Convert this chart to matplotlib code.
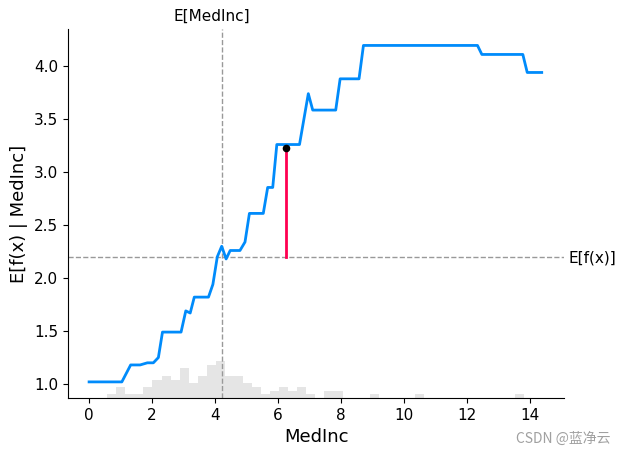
import matplotlib.pyplot as plt
import numpy as np

# partial dependence curve vertices (MedInc -> E[f(x) | MedInc])
pd_x = [0.0, 1.04, 1.32, 1.62, 1.85, 2.04, 2.2, 2.33, 2.92, 3.07, 3.21, 3.34, 3.79, 3.93,
        4.07, 4.21, 4.35, 4.48, 4.79, 4.95, 5.09, 5.53, 5.67, 5.83, 5.96, 6.68, 6.96, 7.1,
        7.83, 7.97, 8.57, 8.71, 12.33, 12.47, 13.77, 13.91, 14.37]
pd_y = [1.02, 1.02, 1.18, 1.18, 1.20, 1.20, 1.25, 1.49, 1.49, 1.69, 1.67, 1.82, 1.82, 1.94,
        2.20, 2.30, 2.18, 2.26, 2.26, 2.34, 2.61, 2.61, 2.855, 2.855, 3.26, 3.26, 3.74, 3.585,
        3.585, 3.88, 3.88, 4.195, 4.195, 4.11, 4.11, 3.94, 3.94]

# histogram of the 100 sampled MedInc values (50 bins over the curve range)
hist_counts = [0, 0, 1, 3, 1, 1, 3, 5, 6, 5, 8, 4, 6, 9, 10, 6, 6, 4, 3, 1,
               2, 3, 2, 3, 1, 0, 2, 2, 0, 0, 0, 1, 0, 0, 0, 0, 1, 0, 0, 0,
               0, 0, 0, 0, 0, 0, 0, 1, 0, 0]
n_samples = 100

mean_x = 4.23          # E[MedInc]
mean_fx = 2.2          # E[f(x)]
sample_x = 6.25        # highlighted sample
sample_fx = 3.23

blue = "#008BFB"
red = "#FF0051"

fig = plt.figure(figsize=(6.26, 4.57), dpi=100)
ax = fig.add_axes([0.1086, 0.1291, 0.7925, 0.8074])

# histogram on a twin axis
ax2 = ax.twinx()
edges = np.linspace(pd_x[0], pd_x[-1], len(hist_counts) + 1)
ax2.bar(edges[:-1], hist_counts, width=np.diff(edges), align="edge",
        color="black", alpha=0.1, linewidth=0)
ax2.set_ylim(0, n_samples)
ax2.set_yticks([])
for s in ax2.spines.values():
    s.set_visible(False)

ax.plot(pd_x, pd_y, color=blue, linewidth=2, zorder=3)
ax.axvline(mean_x, color="#999999", linestyle="--", linewidth=1, zorder=1)
ax.axhline(mean_fx, color="#999999", linestyle="--", linewidth=1, zorder=1)
ax.plot([sample_x, sample_x], [mean_fx, sample_fx], color=red, linewidth=2, zorder=4)
ax.scatter([sample_x], [sample_fx], color="black", s=20, zorder=5)

ax.set_xlim(-0.67, 15.08)
ax.set_ylim(0.868, 4.35)
ax.set_xticks(range(0, 15, 2))
ax.set_yticks([1.0, 1.5, 2.0, 2.5, 3.0, 3.5, 4.0])
ax.tick_params(labelsize=11)
ax.set_xlabel("MedInc", fontsize=13)
ax.set_ylabel("E[f(x) | MedInc]", fontsize=13)
ax.spines["top"].set_visible(False)
ax.spines["right"].set_visible(False)
ax.set_zorder(ax2.get_zorder() + 1)
ax.patch.set_visible(False)

# expected value labels on secondary axes
ax3 = ax.twiny()
ax3.set_xlim(ax.get_xlim())
ax3.set_xticks([mean_x - 0.32])
ax3.set_xticklabels(["E[MedInc]"], fontsize=11)
ax3.tick_params(length=0)
for s in ax3.spines.values():
    s.set_visible(False)

ax4 = ax.twinx()
ax4.set_ylim(ax.get_ylim())
ax4.set_yticks([mean_fx])
ax4.set_yticklabels(["E[f(x)]"], fontsize=11)
ax4.tick_params(length=0)
for s in ax4.spines.values():
    s.set_visible(False)

fig.text(0.975, 0.025, "CSDN @蓝净云", ha="right", va="bottom", fontsize=10,
         color="#a0a0a0", family=["Noto Sans CJK SC", "DejaVu Sans"])

fig.savefig("out.png")
